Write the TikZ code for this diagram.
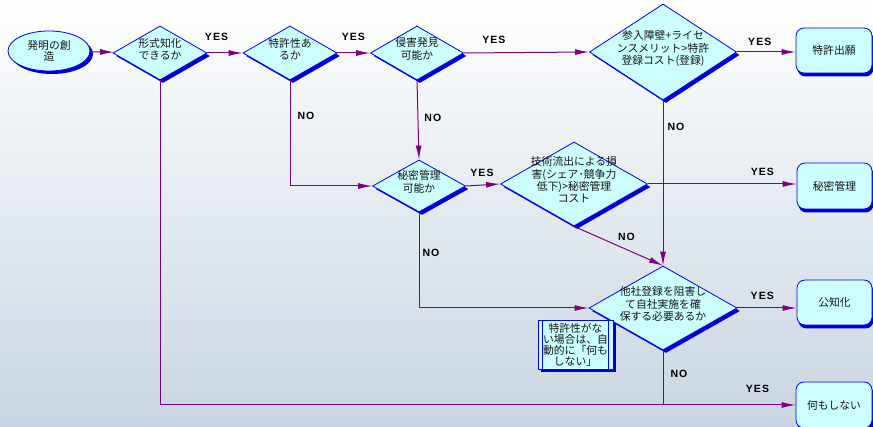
\documentclass[tikz,border=0pt]{standalone}
\usepackage{fontspec}
\usetikzlibrary{arrows.meta,shapes.geometric,shadows}
\newfontfamily\jpfont{Noto Sans CJK JP}
\newfontfamily\lbfont[LetterSpace=10]{Liberation Sans}
\definecolor{cF}{HTML}{CCFFFF}
\definecolor{cE}{HTML}{0000FF}
\definecolor{cS}{HTML}{0000CC}
\definecolor{cL}{HTML}{800080}
\definecolor{cT}{HTML}{141414}
\definecolor{cBg}{HTML}{C9D5E2}
% text set in a zero-size box, so the diamond keeps its given size
\newcommand\dtext[1]{\makebox[0pt]{\raisebox{0pt}[0pt][0pt]{$\vcenter{\hbox{\begin{tabular}{@{}c@{}}#1\end{tabular}}}$}}}

\begin{document}
\begin{tikzpicture}[x=1pt,y=-1pt,
  font=\jpfont\fontsize{10.8}{11}\selectfont, text=cT,
  dm/.style={diamond,draw=cE,fill=cF,line width=.8pt,inner sep=0pt,
    drop shadow={shadow xshift=3pt,shadow yshift=-3pt,fill=cS,opacity=1}},
  bx/.style={rectangle,rounded corners=8pt,draw=cE,fill=cF,line width=.8pt,align=center,
    drop shadow={shadow xshift=1.5pt,shadow yshift=-3.5pt,fill=cS,opacity=1}},
  el/.style={ellipse,draw=cE,fill=cF,line width=.8pt,inner sep=0pt,align=center,
    drop shadow={shadow xshift=3pt,shadow yshift=-3pt,fill=cS,opacity=1}},
  nt/.style={rectangle,draw=cE,fill=cF,line width=.8pt,inner sep=0pt,align=center,
    drop shadow={shadow xshift=3pt,shadow yshift=-3pt,fill=cS,opacity=1}},
  ln/.style={draw=cL,line width=1pt},
  ar/.style={ln,-{Latex[length=14pt,width=6pt]}},
  lb/.style={font=\lbfont\bfseries\fontsize{10.5}{12}\selectfont,text=black,inner sep=0pt}]
\useasboundingbox (0,0) rectangle (873,427);
\shade[top color=white,bottom color=cBg] (0,0) rectangle (873,427);

\node[el,minimum width=82pt,minimum height=40pt] (st) at (49,51) {発明の創\\造};
\node[dm,minimum width=94pt,minimum height=54pt] (d1) at (160,53) {\dtext{形式知化\\できるか}};
\node[dm,minimum width=94pt,minimum height=54pt] (d2) at (290,53) {\dtext{特許性あ\\るか}};
\node[dm,minimum width=93pt,minimum height=54pt] (d3) at (417,53) {\dtext{侵害発見\\可能か}};
\node[dm,minimum width=147pt,minimum height=96pt] (d4) at (663,52)
  {\dtext{参入障壁+ライセ\\ンスメリット>特許\\登録コスト(登録)}};
\node[dm,minimum width=93pt,minimum height=52pt] (d5) at (419,186) {\dtext{秘密管理\\可能か}};
\node[dm,minimum width=147pt,minimum height=84pt] (d6) at (574,184)
  {\dtext{技術流出による損\\害(シェア･競争力\\低下)>秘密管理\\コスト}};
\node[dm,minimum width=148pt,minimum height=84pt] (d7) at (663,308)
  {\dtext{他社登録を阻害し\\て自社実施を確\\保する必要あるか}};

\node[bx,minimum width=76pt,minimum height=45pt] (pat) at (834,50.5) {特許出願};
\node[bx,minimum width=75pt,minimum height=46pt] (sec) at (834.5,186) {秘密管理};
\node[bx,minimum width=75pt,minimum height=45pt] (pub) at (834.5,302.5) {公知化};
\node[bx,minimum width=76pt,minimum height=46pt] (non) at (834,405) {何もしない};

\node[nt,minimum width=75pt,minimum height=49pt] (nt) at (575.5,344.5)
  {特許性がな\\い場合は、自\\動的に「何も\\しない」};
\draw[draw=cE,line width=.8pt] ([xshift=5pt]nt.north west) -- ([xshift=5pt]nt.south west)
  ([xshift=-5pt]nt.north east) -- ([xshift=-5pt]nt.south east);

\draw[ar] (st) -- (d1);
\draw[ar] (d1.east) -- (d2.west) node[lb,pos=.26,above=12pt] {YES};
\draw[ar] (d2.east) -- (d3.west) node[lb,pos=.49,above=12pt] {YES};
\draw[ar] (d3.east) -- (d4.west) node[lb,pos=.24,above=9pt] {YES};
\draw[ar] (d4.east) -- (d4.east -| pat.west) node[lb,pos=.39,above=6pt] {YES};
\draw[ar] (d2.south) |- (d5.west) node[lb,pos=.17,right=7pt] {NO};
\draw[ar] (d3.south) -- (d5.north) node[lb,pos=.47,right=6pt] {NO};
\draw[ar] (d5.east) -- (d6.west) node[lb,pos=.47,above=8pt] {YES};
\draw[ar] (d6.east) -- (d6.east -| sec.west) node[lb,pos=.77,above=8pt] {YES};
\draw[ar] (d4.south) -- (d7.north) node[lb,pos=.16,right=4pt] {NO};
\draw[ar] (d6.south) -- (d7.north) node[lb,pos=.59,above=8pt] {NO};
\draw[ar] (d5.south) |- (d7.west) node[lb,pos=.21,right=3pt] {NO};
\draw[ar] (d7.east) -- (d7.east -| pub.west) node[lb,pos=.42,above=8pt] {YES};
\coordinate (jn) at (d7.south |- non.west);
\draw[ln] (d7.south) -- (jn) node[lb,pos=.43,right=7pt] {NO};
\draw[ar] (d1.south) |- (non.west) node[lb,pos=.97,above=12pt] {YES};
\end{tikzpicture}
\end{document}
